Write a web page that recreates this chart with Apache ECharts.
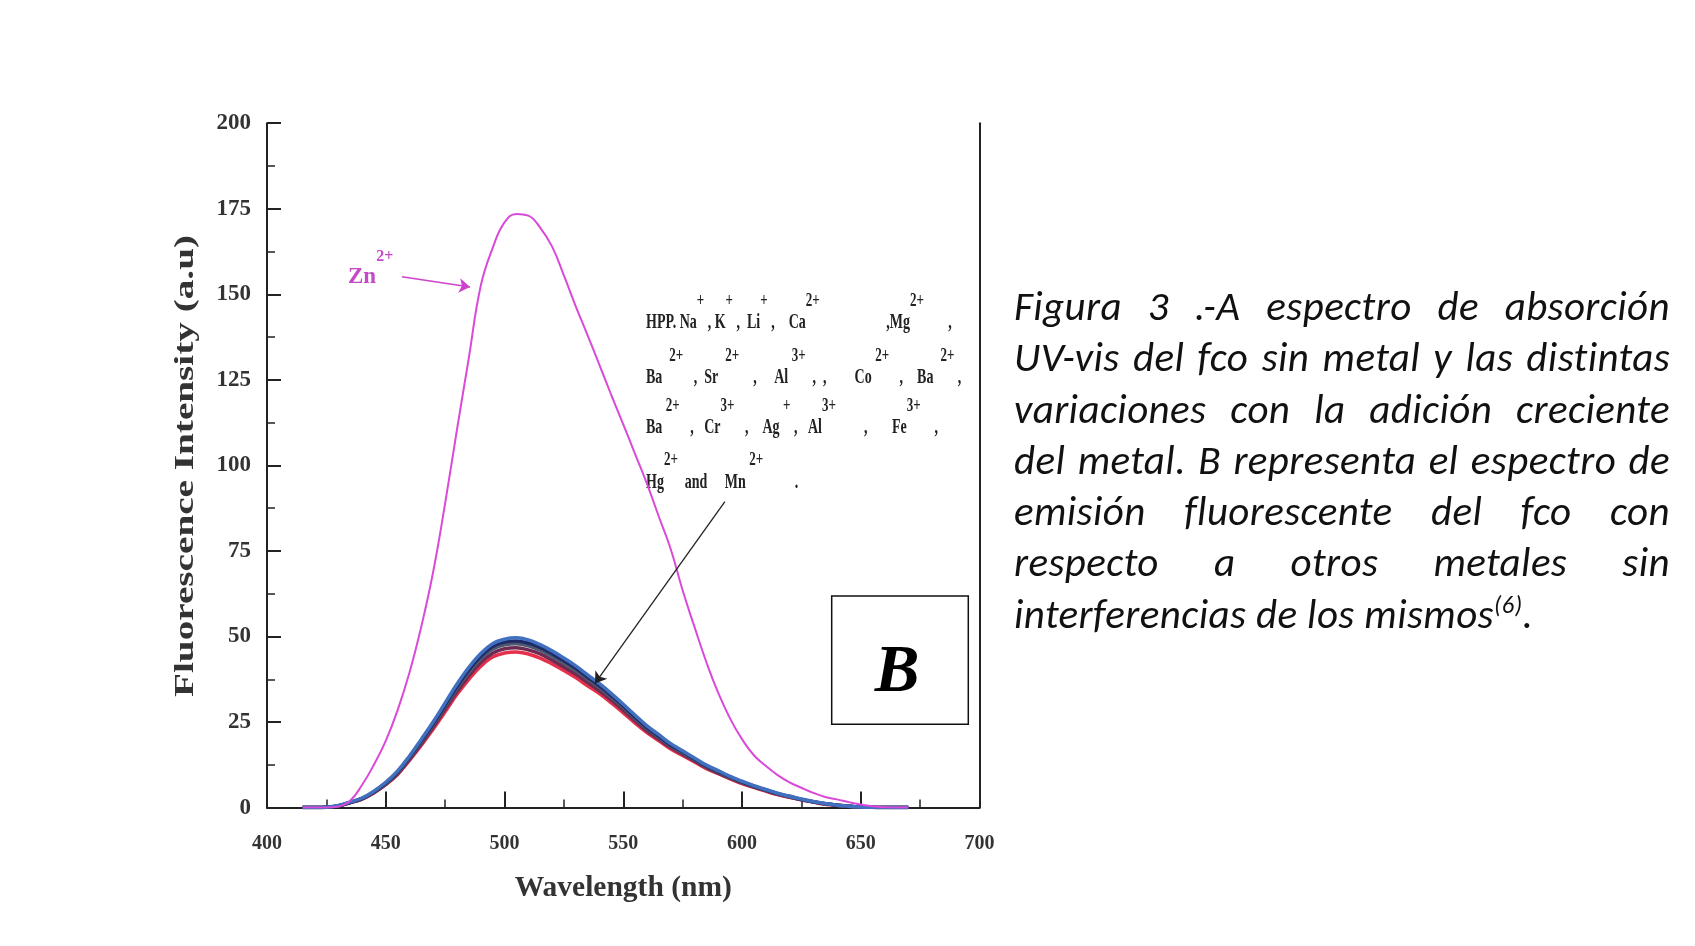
<!DOCTYPE html>
<html lang="es">
<head>
<meta charset="UTF-8" />
<title>Figura 3 B</title>
<script src="https://cdn.jsdelivr.net/npm/echarts@6/dist/echarts.min.js"></script>
<style type="text/css">
html,body{margin:0;padding:0;background:#fff;}
#main{position:absolute;left:0;top:0;width:1695px;height:946px;}
.caption{
	position:absolute;left:1014px;top:281px;width:656px;
	font-family:Carlito,Lato,sans-serif;font-style:italic;
	font-size:41px;line-height:51.3px;letter-spacing:0.4px;color:#111;
}
.caption div{text-align:justify;text-align-last:justify;}
.caption div.last{text-align-last:left;}
.caption sup{font-size:60%;line-height:0;}
</style>
</head>
<body>
<div id="main"></div>
<div class="caption">
	<div>Figura 3 .-A espectro de absorción</div>
	<div>UV-vis del fco sin metal y las distintas</div>
	<div>variaciones con la adición creciente</div>
	<div>del metal. B representa el espectro de</div>
	<div>emisión fluorescente del fco con</div>
	<div>respecto a otros metales sin</div>
	<div class="last">interferencias de los mismos<sup>(6)</sup>.</div>
</div>
<script type="text/javascript">
// wavelength grid (nm), 5 nm step
var wavelength = [415,420,425,430,435,440,445,450,455,460,465,470,475,480,485,490,495,500,505,510,
	515,520,525,530,535,540,545,550,555,560,565,570,575,580,585,590,595,600,605,610,
	615,620,625,630,635,640,645,650,655,660,665,670];
// Zn2+ curve
var zinc = [0,0,0,0.3,2.0,6.6,12.5,19.5,28.5,39.5,53.0,69.0,88.9,110.5,131.5,152.5,163.5,171.0,173.5,173.0,
	169.5,164.0,155.5,146.5,138.0,129.3,120.5,112.0,103.3,94.6,85.0,75.5,63.5,52.8,42.5,33.5,26.0,20.0,15.3,12.2,
	9.5,7.4,5.8,4.3,3.1,2.4,1.6,0.9,0.4,0.1,0,0];
// HPP + other metals bundle (top to bottom)
var bandTop = [0,0,0.1,0.6,1.6,2.8,4.8,7.4,10.7,15.1,20.0,25.1,30.6,36.1,41.0,45.0,47.9,49.2,49.6,49.0,
	47.6,45.8,43.7,41.4,38.8,36.2,33.3,30.2,27.0,23.9,21.3,18.7,16.6,14.5,12.4,10.8,9.1,7.7,6.4,5.3,
	4.2,3.3,2.5,1.8,1.2,0.7,0.4,0.2,0.1,0,0,0];
var bandUpper = [0,0,0.1,0.5,1.5,2.7,4.6,7.2,10.4,14.8,19.6,24.6,30.0,35.4,40.2,44.2,47.1,48.4,48.7,48.1,
	46.8,45.0,42.9,40.7,38.1,35.6,32.7,29.7,26.4,23.4,20.8,18.3,16.3,14.2,12.2,10.6,9.0,7.5,6.3,5.2,
	4.1,3.3,2.4,1.7,1.1,0.7,0.4,0.2,0.1,0,0,0];
var bandMid = [0,0,0.1,0.5,1.5,2.6,4.5,7.0,10.2,14.5,19.2,24.2,29.5,34.8,39.5,43.5,46.3,47.6,47.9,47.3,
	46.0,44.2,42.2,40.0,37.5,35.0,32.2,29.2,26.0,23.0,20.5,18.0,16.0,14.0,12.0,10.4,8.8,7.4,6.2,5.1,
	4.0,3.2,2.4,1.7,1.1,0.7,0.4,0.2,0.1,0,0,0];
var bandLower = [0,0,0.1,0.5,1.5,2.5,4.4,6.8,9.9,14.1,18.7,23.6,28.8,33.9,38.5,42.4,45.1,46.4,46.7,46.1,
	44.9,43.1,41.1,39.0,36.6,34.1,31.4,28.5,25.4,22.4,20.0,17.6,15.6,13.7,11.7,10.1,8.6,7.2,6.0,5.0,
	3.9,3.1,2.3,1.7,1.1,0.7,0.4,0.2,0.1,0,0,0];
var bandBottom = [0,0,0.1,0.5,1.4,2.5,4.3,6.7,9.7,13.8,18.2,23.0,28.0,33.1,37.5,41.3,44.0,45.2,45.5,44.9,
	43.7,42.0,40.1,38.0,35.6,33.3,30.6,27.7,24.7,21.9,19.5,17.1,15.2,13.3,11.4,9.9,8.4,7.0,5.9,4.8,
	3.8,3.0,2.3,1.6,1.0,0.7,0.4,0.2,0.1,0,0,0];

// annotation text, one entry per line (b = normal, s = superscript)
var legendLines = [
	'{b|HPP. Na}{s|+}{b| , K}{s|+}{b| ,  Li}{s|+}{b| ,    Ca}{s|2+}{b|                   ,Mg}{s|2+}{b|       ,}',
	'{b|Ba  }{s|2+}{b|   ,  Sr  }{s|2+}{b|    ,     Al }{s|3+}{b|  ,  ,        Co }{s|2+}{b|   ,    Ba  }{s|2+}{b| ,}',
	'{b|Ba }{s|2+}{b|   ,   Cr}{s|3+}{b|   ,    Ag }{s|+}{b| ,   Al}{s|3+}{b|        ,       Fe}{s|3+}{b|    ,}',
	'{b|Hg}{s|2+}{b|  and     Mn }{s|2+}{b|         .}'
];
var legendTops = [308, 363, 413, 467.5];

function pairs(ys){
	return wavelength.map(function(x, i){ return [x, ys[i]]; });
}

var serif = '"Liberation Serif", "Times New Roman", serif';
var axisColor = '#222';
var znColor = '#c64ac6';
var legendRich = {
	b: {fontFamily: serif, fontWeight: 'bold', fontSize: 14, lineHeight: 20, fill: '#222'},
	s: {fontFamily: serif, fontWeight: 'bold', fontSize: 13, lineHeight: 10, padding: [0, 0, 30, 0], fill: '#222'}
};

function bandSeries(name, ys, color, mark){
	var s = {
		name: name,
		type: 'line',
		data: pairs(ys),
		smooth: 0.4,
		symbol: 'none',
		silent: true,
		lineStyle: {color: color, width: 3.5}
	};
	if(mark){ s.markLine = mark; }
	return s;
}

var graphics = [
	{
		type: 'text', x: 186, y: 466, rotation: Math.PI / 2, scaleX: 1.4,
		style: {
			text: 'Fluorescence Intensity (a.u)',
			font: 'bold 28px ' + serif, fill: '#333',
			align: 'center', verticalAlign: 'middle'
		}
	},
	{
		type: 'text', x: 348, y: 264,
		style: {
			text: '{b|Zn}{s|2+}',
			fill: znColor,
			align: 'left', verticalAlign: 'top',
			rich: {
				b: {fontFamily: serif, fontWeight: 'bold', fontSize: 23, lineHeight: 26, fill: znColor},
				s: {fontFamily: serif, fontWeight: 'bold', fontSize: 16, lineHeight: 16, padding: [0, 0, 40, 0], fill: znColor}
			}
		}
	},
	{
		type: 'rect', z: 10,
		shape: {x: 831.7, y: 596, width: 136.6, height: 128.3},
		style: {fill: '#fff', stroke: '#111', lineWidth: 1.5}
	},
	{
		type: 'text', z: 11, x: 897, y: 674,
		style: {
			text: 'B', font: 'italic bold 67px ' + serif, fill: '#000',
			align: 'center', verticalAlign: 'middle'
		}
	}
];
legendLines.forEach(function(line, i){
	graphics.push({
		type: 'text', x: 646, y: legendTops[i], scaleY: 1.5,
		style: {text: line, fill: '#222', align: 'left', verticalAlign: 'top', rich: legendRich}
	});
});

var myChart = echarts.init(document.getElementById('main'));
myChart.setOption({
	animation: false,
	backgroundColor: '#fff',
	grid: {left: 267, right: 715.5, top: 123.2, bottom: 138.4},
	xAxis: {
		type: 'value', min: 400, max: 700, interval: 50,
		axisLine: {show: true, lineStyle: {color: axisColor, width: 2}},
		axisTick: {show: true, inside: true, length: 16, lineStyle: {color: axisColor, width: 2}},
		minorTick: {show: true, splitNumber: 2, length: 8, lineStyle: {color: axisColor, width: 1.5}},
		splitLine: {show: false},
		axisLabel: {color: '#333', fontFamily: serif, fontWeight: 'bold', fontSize: 20, margin: 26},
		name: 'Wavelength (nm)',
		nameLocation: 'middle',
		nameGap: 66,
		nameTextStyle: {color: '#333', fontFamily: serif, fontWeight: 'bold', fontSize: 29.5}
	},
	yAxis: [
		{
			type: 'value', min: 0, max: 200, interval: 25,
			axisLine: {show: true, lineStyle: {color: axisColor, width: 2}},
			axisTick: {show: true, inside: true, length: 14, lineStyle: {color: axisColor, width: 2}},
			minorTick: {show: true, splitNumber: 2, length: 8, lineStyle: {color: axisColor, width: 1.5}},
			splitLine: {show: false},
			axisLabel: {color: '#333', fontFamily: serif, fontWeight: 'bold', fontSize: 23, margin: 16}
		},
		{
			type: 'value', min: 0, max: 200, interval: 25, position: 'right',
			axisLine: {show: true, lineStyle: {color: axisColor, width: 2}},
			axisTick: {show: false},
			splitLine: {show: false},
			axisLabel: {show: false}
		}
	],
	series: [
		bandSeries('bottom', bandBottom, '#e5304c'),
		bandSeries('lower', bandLower, '#6e2a52'),
		bandSeries('mid', bandMid, '#4f596e', {
			symbol: ['none', 'arrow'], symbolSize: 11, silent: true,
			label: {show: false},
			lineStyle: {color: '#222', width: 1.3, type: 'solid'},
			data: [[{coord: [592.8, 89.4]}, {coord: [538.1, 36.3]}]]
		}),
		bandSeries('upper', bandUpper, '#1f2b68'),
		bandSeries('top', bandTop, '#4270c0'),
		{
			name: 'Zn2+',
			type: 'line',
			data: pairs(zinc),
			smooth: 0.45,
			symbol: 'none',
			silent: true,
			lineStyle: {color: '#d94ad9', width: 2},
			markLine: {
				symbol: ['none', 'arrow'], symbolSize: 11, silent: true,
				label: {show: false},
				lineStyle: {color: '#cc44cc', width: 1.5, type: 'solid'},
				data: [[{coord: [456.8, 155.1]}, {coord: [485.5, 152.1]}]]
			}
		}
	],
	graphic: graphics
});
</script>
</body>
</html>
